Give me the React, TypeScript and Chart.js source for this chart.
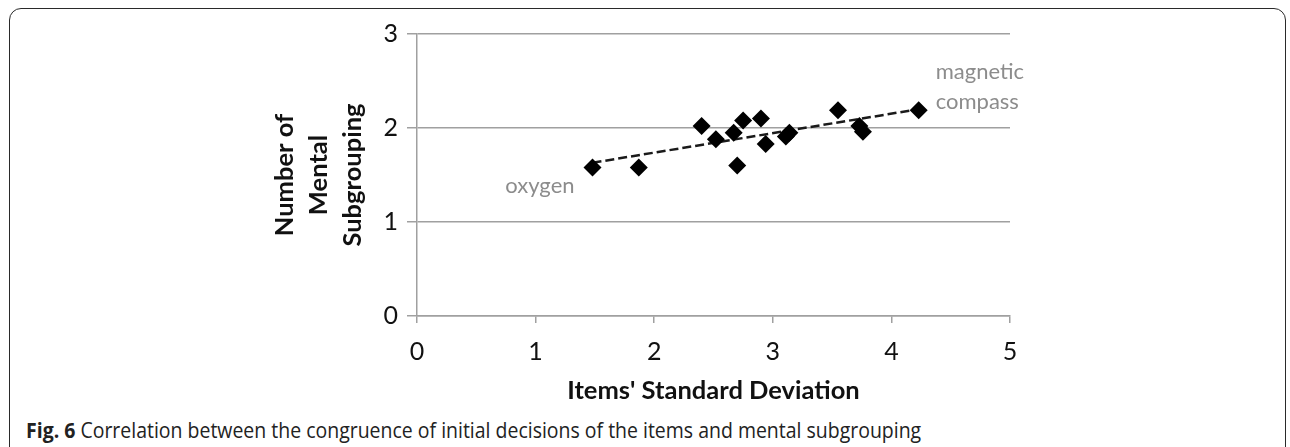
import React, { useEffect, useRef } from 'react';
import { Chart, registerables } from 'chart.js';

Chart.register(...registerables);

// ---- data ----
const itemSD = [1.48, 1.87, 2.40, 2.52, 2.67, 2.75, 2.70, 2.90, 2.94, 3.11, 3.14, 3.55, 3.73, 3.76, 4.23];
const subgrouping = [1.58, 1.58, 2.02, 1.88, 1.95, 2.08, 1.60, 2.10, 1.83, 1.91, 1.95, 2.19, 2.02, 1.96, 2.19];
const trendX = [1.48, 4.23];
const trendY = [1.63, 2.20];
const xTicks = [0, 1, 2, 3, 4, 5];
const yTicks = [0, 1, 2, 3];
const xTitle = "Items' Standard Deviation";
const yTitle = ['Number of', 'Mental', 'Subgrouping'];
const firstPointNote = ['oxygen'];
const lastPointNote = ['magnetic', 'compass'];
const captionBold = 'Fig. 6';
const captionText = 'Correlation between the congruence of initial decisions of the items and mental subgrouping';

const FONT = 'Lato';

const notesPlugin = {
  id: 'pointNotes',
  afterDatasetsDraw(chart: any) {
    const meta = chart.getDatasetMeta(0);
    const pts = meta.data;
    if (!pts || !pts.length) return;
    const first = pts[0];
    const last = pts[pts.length - 1];
    const ctx = chart.ctx;
    ctx.save();
    ctx.font = `22px ${FONT}`;
    ctx.fillStyle = '#8c8c8c';
    ctx.textBaseline = 'middle';
    ctx.textAlign = 'right';
    firstPointNote.forEach((t, i) => ctx.fillText(t, first.x - 18, first.y + 18 + i * 30));
    ctx.textAlign = 'left';
    lastPointNote.forEach((t, i) => ctx.fillText(t, last.x + 17, last.y - 38 + i * 30));
    ctx.restore();
  },
};

function ScatterChart() {
  const ref = useRef<HTMLCanvasElement | null>(null);
  useEffect(() => {
    if (!ref.current) return;
    const chart = new Chart(ref.current, {
      type: 'scatter',
      data: {
        datasets: [
          {
            data: itemSD.map((x, i) => ({ x, y: subgrouping[i] })),
            pointStyle: 'rectRot',
            pointRadius: 9,
            pointHoverRadius: 9,
            backgroundColor: '#000',
            borderColor: '#000',
            borderWidth: 0,
            showLine: false,
          } as any,
          {
            data: trendX.map((x, i) => ({ x, y: trendY[i] })),
            showLine: true,
            borderColor: '#1a1a1a',
            borderWidth: 2.5,
            borderDash: [9, 4],
            pointRadius: 0,
            fill: false,
          } as any,
        ],
      },
      options: {
        animation: false,
        responsive: true,
        maintainAspectRatio: false,
        events: [],
        layout: { padding: { left: 268, right: 280, top: 34, bottom: 0 } },
        plugins: { legend: { display: false }, tooltip: { enabled: false } },
        scales: {
          x: {
            type: 'linear',
            min: 0,
            max: 5,
            afterBuildTicks: (s: any) => {
              s.ticks = xTicks.map((v) => ({ value: v }));
            },
            afterFit: (s: any) => {
              s.height = 90;
            },
            grid: { drawOnChartArea: false, drawTicks: true, tickLength: 7, color: '#a0a0a0', lineWidth: 1.5 },
            border: { display: true, color: '#a0a0a0', width: 1.5 },
            ticks: { font: { family: FONT, size: 25 }, color: '#111', padding: 14, maxRotation: 0 },
            title: {
              display: true,
              text: xTitle,
              font: { family: FONT, size: 25.5, weight: 'bold' },
              color: '#111',
              padding: 0,
            },
          },
          y: {
            type: 'linear',
            min: 0,
            max: 3,
            afterBuildTicks: (s: any) => {
              s.ticks = yTicks.map((v) => ({ value: v }));
            },
            afterFit: (s: any) => {
              s.width = 149;
            },
            grid: { color: '#a0a0a0', lineWidth: 1.5, tickLength: 10 },
            border: { display: true, color: '#a0a0a0', width: 1.5 },
            ticks: { font: { family: FONT, size: 25 }, color: '#111', padding: 9 },
            title: {
              display: true,
              text: yTitle,
              font: { family: FONT, size: 25.5, weight: 'bold', lineHeight: 34 / 25.5 },
              color: '#111',
              padding: 0,
            },
          },
        },
      } as any,
      plugins: [notesPlugin],
    });
    return () => chart.destroy();
  }, []);
  return <canvas ref={ref} />;
}

export default function App() {
  useEffect(() => {
    document.body.style.margin = '0';
  }, []);
  return (
    <div style={{ position: 'relative', width: 1290, height: 447, overflow: 'hidden', background: '#fff' }}>
      <div
        style={{
          position: 'absolute',
          left: 9,
          top: 8,
          width: 1277,
          height: 480,
          border: '1.5px solid #2a2a2a',
          borderRadius: 12,
          boxSizing: 'border-box',
        }}
      />
      <div style={{ position: 'absolute', left: 0, top: 0, width: 1290, height: 406 }}>
        <ScatterChart />
      </div>
      <div
        style={{
          position: 'absolute',
          left: 26,
          top: 416,
          fontFamily: '"Open Sans", sans-serif',
          fontSize: 22,
          lineHeight: '26px',
          color: '#222',
          whiteSpace: 'nowrap',
          transform: 'scaleX(0.885)',
          transformOrigin: '0 0',
        }}
      >
        <b>{captionBold}</b> {captionText}
      </div>
    </div>
  );
}
